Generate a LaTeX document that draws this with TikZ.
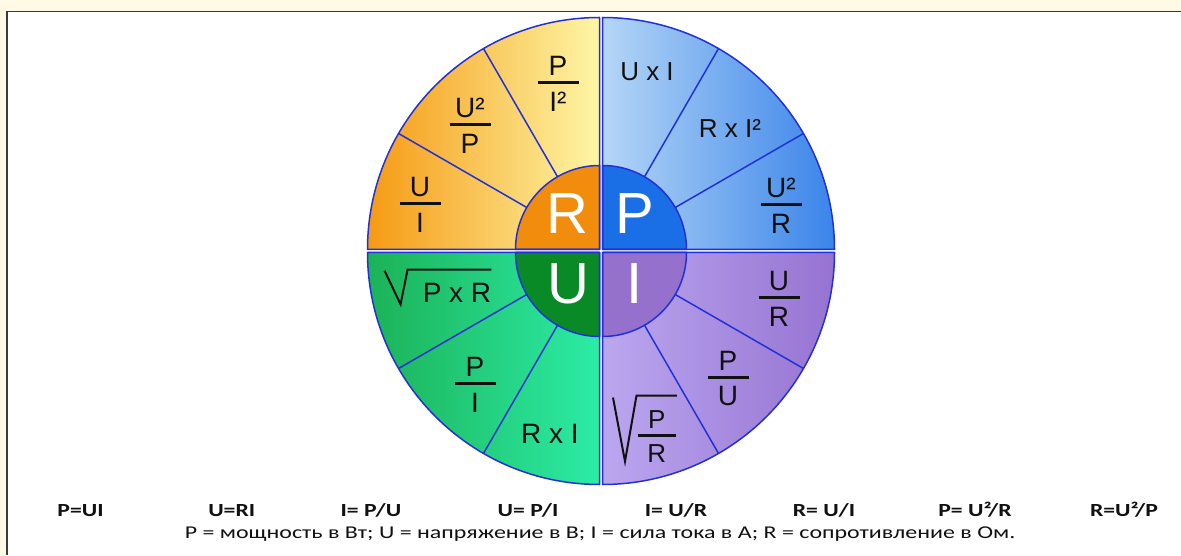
\documentclass[tikz,border=0pt]{standalone}
\usepackage{fontspec}
\setmainfont{Liberation Sans}
\newfontfamily\capfont[FakeStretch=1.28]{Carlito}
\newfontfamily\keyfont[FakeStretch=1.33]{Carlito}

\definecolor{cream}{HTML}{FFF9E6}
\definecolor{framegray}{HTML}{3A3A3A}
\definecolor{rimblue}{HTML}{2231D6}
\definecolor{ink}{HTML}{111111}
\definecolor{rOut}{HTML}{F59A14}
\definecolor{rMid}{HTML}{FBDF80}
\definecolor{rIn}{HTML}{FEF6A6}
\definecolor{rCore}{HTML}{F28C0C}
\definecolor{pIn}{HTML}{B5D6F6}
\definecolor{pMid}{HTML}{98C3F1}
\definecolor{pOut}{HTML}{3A84EA}
\definecolor{pCore}{HTML}{1A6FE6}
\definecolor{uOut}{HTML}{1CB257}
\definecolor{uMid}{HTML}{27D98A}
\definecolor{uIn}{HTML}{2CECA6}
\definecolor{uCore}{HTML}{098A27}
\definecolor{iIn}{HTML}{BBA7EF}
\definecolor{iMid}{HTML}{AE94E8}
\definecolor{iOut}{HTML}{9673D2}
\definecolor{iCore}{HTML}{9570CD}

% fraction: numerator, bar, denominator
\newcommand{\frc}[3][41pt]{#2\\[-13pt]\rule[-1.5pt]{#1}{3pt}\\[7pt]#3}

\begin{document}
\begin{tikzpicture}[x=1pt,y=1pt,
  rim/.style={draw=rimblue, line width=1.5pt, line join=round},
  txt/.style={inner sep=0pt, text=ink, font=\fontsize{26}{20}\selectfont},
  frac/.style={inner sep=0pt, text=ink, align=center, font=\fontsize{28}{20}\selectfont},
  big/.style={inner sep=0pt, text=white, font=\fontsize{58}{60}\selectfont},
  law/.style={anchor=base, inner sep=0pt, text=ink, font=\capfont\bfseries\fontsize{18.5}{20}\selectfont},
  root/.style={draw=ink, line width=2pt, line join=miter}]

  \useasboundingbox (0,0) rectangle (1181,555);

  % page and frame
  \fill[cream] (0,0) rectangle (1181,555);
  \fill[white] (7,0) rectangle (1181,543.5);
  \draw[framegray, line width=1.3pt] (7,0) -- (7,543.5) -- (1181,543.5);

  % R quadrant (top left)
  \begin{scope}[shift={(599.5,305.5)}]
    \shade[left color=rOut, middle color=rMid, right color=rIn] (0,0) -- (180:232) arc[start angle=180, end angle=90, radius=232] -- cycle;
    \foreach \a in {120,150} \draw[rim] (\a:84) -- (\a:232);
    \filldraw[rim, fill=rCore] (0,0) -- (180:84) arc[start angle=180, end angle=90, radius=84] -- cycle;
    \draw[rim] (0,0) -- (180:232) arc[start angle=180, end angle=90, radius=232] -- cycle;
  \end{scope}

  % P quadrant (top right)
  \begin{scope}[shift={(602.5,305.5)}]
    \shade[left color=pIn, middle color=pMid, right color=pOut] (0,0) -- (0:232) arc[start angle=0, end angle=90, radius=232] -- cycle;
    \foreach \a in {30,60} \draw[rim] (\a:84) -- (\a:232);
    \filldraw[rim, fill=pCore] (0,0) -- (0:84) arc[start angle=0, end angle=90, radius=84] -- cycle;
    \draw[rim] (0,0) -- (0:232) arc[start angle=0, end angle=90, radius=232] -- cycle;
  \end{scope}

  % U quadrant (bottom left)
  \begin{scope}[shift={(599.5,302.5)}]
    \shade[left color=uOut, middle color=uMid, right color=uIn] (0,0) -- (180:232) arc[start angle=180, end angle=270, radius=232] -- cycle;
    \foreach \a in {210,240} \draw[rim] (\a:84) -- (\a:232);
    \filldraw[rim, fill=uCore] (0,0) -- (180:84) arc[start angle=180, end angle=270, radius=84] -- cycle;
    \draw[rim] (0,0) -- (180:232) arc[start angle=180, end angle=270, radius=232] -- cycle;
  \end{scope}

  % I quadrant (bottom right)
  \begin{scope}[shift={(602.5,302.5)}]
    \shade[left color=iIn, middle color=iMid, right color=iOut] (0,0) -- (0:232) arc[start angle=0, end angle=-90, radius=232] -- cycle;
    \foreach \a in {300,330} \draw[rim] (\a:84) -- (\a:232);
    \filldraw[rim, fill=iCore] (0,0) -- (0:84) arc[start angle=0, end angle=-90, radius=84] -- cycle;
    \draw[rim] (0,0) -- (0:232) arc[start angle=0, end angle=-90, radius=232] -- cycle;
  \end{scope}

  % centre letters
  \node[big] (cr) at (567,341) {R};
  \node[big] (cp) at (635,341) {P};
  \node[big] (cu) at (568,271) {U};
  \node[big] (ci) at (635,271) {I};

  % formulas for R
  \node[frac] (rpi) at (558,471.5) {\frc{P}{I²}};
  \node[frac] (rup) at (470,429.5) {\frc{U²}{P}};
  \node[frac] (rui) at (420,350.5) {\frc{U}{I}};

  % formulas for P
  \node[txt] (pui) at (647,483) {U x I};
  \node[txt] (pri) at (730,427) {R x I²};
  \node[frac] (pur) at (781,349.5) {\frc{U²}{R}};

  % formulas for U
  \node[txt, font=\fontsize{28}{20}\selectfont] (upr) at (457,262) {P x R};
  \draw[root] ([shift={(-38,12.5)}]upr.north west) -- ([shift={(-22,-1.5)}]upr.south west)
    -- ([shift={(-15,13.5)}]upr.north west) -- ([shift={(0,13.5)}]upr.north east);
  \node[frac] (upi) at (475,170.5) {\frc{P}{I}};
  \node[txt, font=\fontsize{28}{20}\selectfont] (uri) at (550,121) {R x I};

  % formulas for I
  \node[frac] (iur) at (779,256.5) {\frc{U}{R}};
  \node[frac] (ipu) at (728,176.5) {\frc{P}{U}};
  \node[frac, font=\fontsize{26}{20}\selectfont] (ipr) at (656.7,118.8) {\frc[38pt]{P}{R}};
  \draw[root] ([shift={(-24.5,12.5)}]ipr.north west) -- ([shift={(-12.5,1)}]ipr.south west)
    -- ([shift={(-1,14.5)}]ipr.north west) -- ([shift={(1,14.5)}]ipr.north east);

  % laws along the bottom
  \node[law] (l1) at (80.5,38.3) {P=UI};
  \node[law] (l2) at (231.7,38.3) {U=RI};
  \node[law] (l3) at (371,38.3) {I= P/U};
  \node[law] (l4) at (528,38.3) {U= P/I};
  \node[law] (l5) at (676,38.3) {I= U/R};
  \node[law] (l6) at (824,38.3) {R= U/I};
  \node[law] (l7) at (975,38.3) {P= U²/R};
  \node[law] (l8) at (1124,38.3) {R=U²/P};

  % legend
  \node[anchor=base, inner sep=0pt, text=ink, font=\keyfont\fontsize{18}{20}\selectfont] (key) at (600,16.7)
    {P = мощность в Вт; U = напряжение в В; I = сила тока в А; R = сопротивление в Ом.};

\end{tikzpicture}
\end{document}
